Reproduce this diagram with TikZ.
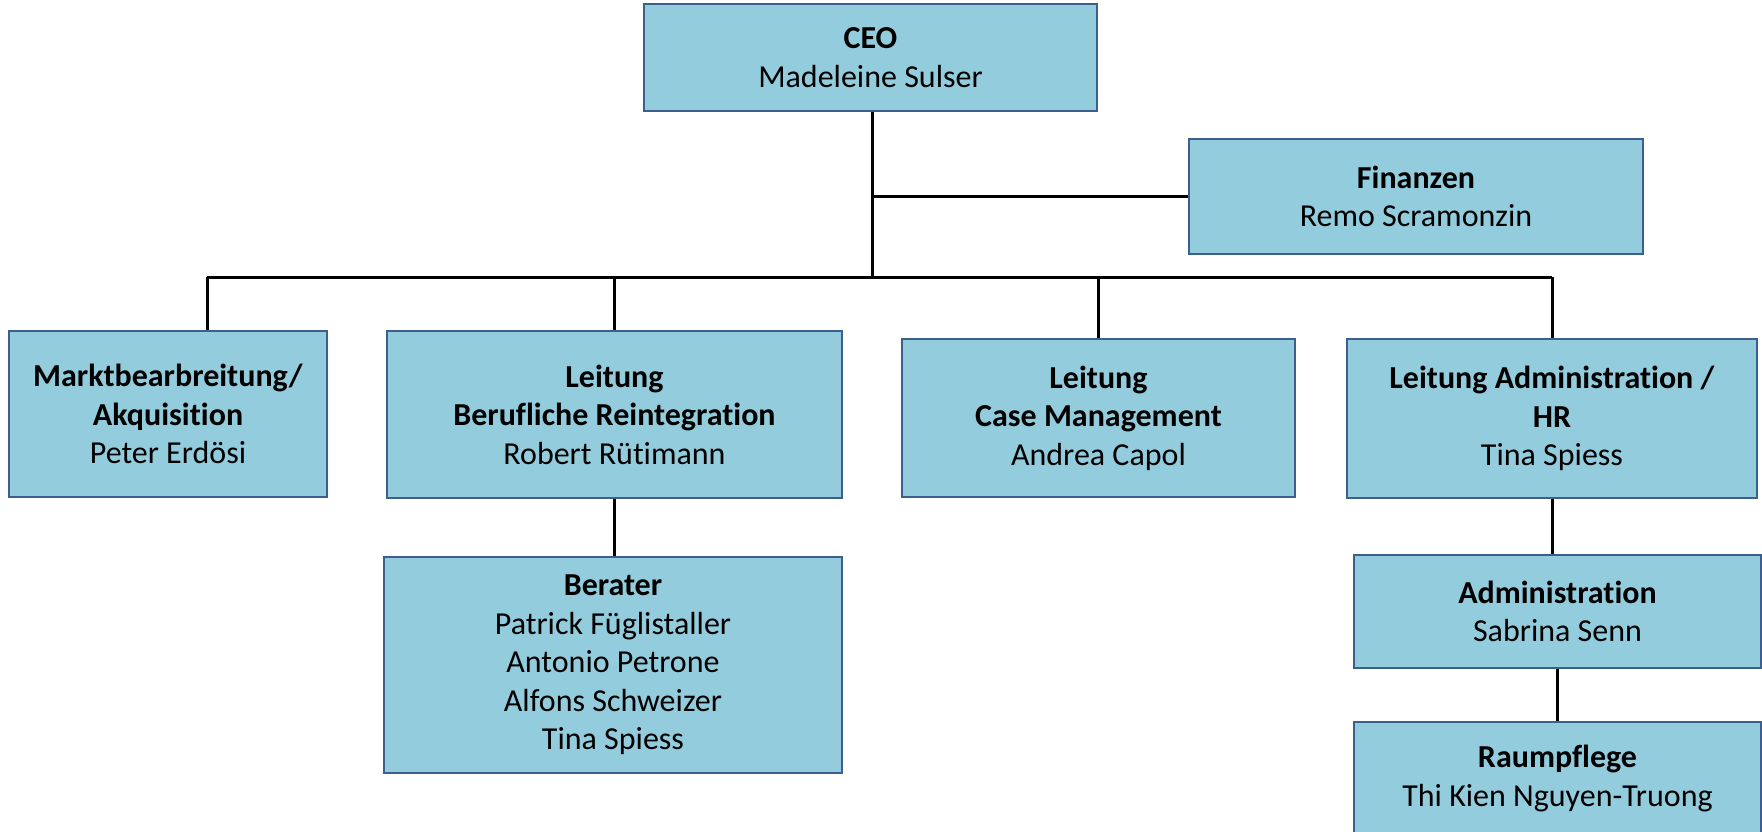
\documentclass[tikz,border=0pt]{standalone}
\usepackage{fontspec}
\setmainfont{Carlito}[Ligatures=NoCommon]
\definecolor{boxfill}{RGB}{147,205,221}
\definecolor{boxline}{RGB}{60,95,140}
\tikzset{
    orgbox/.style={draw=boxline, line width=2pt, fill=boxfill, align=center,
        inner sep=0pt, font=\fontsize{32}{38.5}\selectfont},
    link/.style={line width=3pt}
}
\begin{document}
\begin{tikzpicture}[x=1pt,y=-1pt]
    \useasboundingbox (0,0) rectangle (1762,832);
    \clip (0,0) rectangle (1762,832);

    \node[orgbox, minimum width=453, minimum height=107] (ceo) at (870.5,57.5)
        {\textbf{CEO}\\Madeleine Sulser};
    \node[orgbox, minimum width=454, minimum height=115] (fin) at (1416,196.5)
        {\textbf{Finanzen}\\Remo Scramonzin};

    \node[orgbox, minimum width=318, minimum height=166] (markt) at (168,414)
        {\textbf{Marktbearbreitung/}\\\textbf{Akquisition}\\Peter Erdösi};
    \node[orgbox, minimum width=455, minimum height=167] (beruf) at (614.5,414.5)
        {\textbf{Leitung}\\\textbf{Berufliche Reintegration}\\Robert Rütimann};
    \node[orgbox, minimum width=393, minimum height=158] (case) at (1098.5,418)
        {\textbf{Leitung}\\\textbf{Case Management}\\Andrea Capol};
    \node[orgbox, minimum width=410, minimum height=159] (adminhr) at (1552,418.5)
        {\textbf{Leitung Administration /}\\\textbf{HR}\\Tina Spiess};

    \node[orgbox, minimum width=458, minimum height=216] (berater) at (613,665)
        {\textbf{Berater}\\Patrick Füglistaller\\Antonio Petrone\\Alfons Schweizer\\Tina Spiess};
    \node[orgbox, minimum width=407, minimum height=113] (admin) at (1557.5,611.5)
        {\textbf{Administration}\\Sabrina Senn};
    \node[orgbox, minimum width=407, minimum height=113] (raum) at (1557.5,778.5)
        {\textbf{Raumpflege}\\Thi Kien Nguyen-Truong};

    % Verbindungen
    \coordinate (bus) at (872,277);
    \coordinate (markttop) at ([xshift=39pt]markt.north);
    \draw[link] (ceo.south -| bus) -- (bus);
    \draw[link] (fin.west) -- (fin.west -| bus);
    \draw[link] (markttop |- bus) -- (adminhr.north |- bus);
    \foreach \n in {markttop, beruf.north, case.north, adminhr.north}
        \draw[link] (\n) -- (\n |- bus);
    \draw[link] (beruf.south) -- (beruf.south |- berater.north);
    \draw[link] (adminhr.south) -- (adminhr.south |- admin.north);
    \draw[link] (admin.south) -- (admin.south |- raum.north);

\end{tikzpicture}
\end{document}
